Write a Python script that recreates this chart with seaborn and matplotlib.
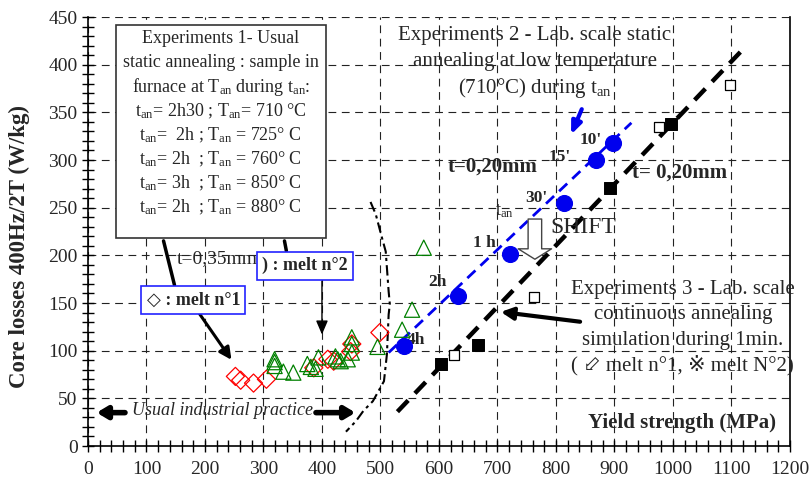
import numpy as np
import pandas as pd
import matplotlib.pyplot as plt
import seaborn as sns
from matplotlib.patches import Rectangle
from matplotlib.ticker import MultipleLocator

# Experiments 1 - usual static annealing, t = 0.35 mm
melt1_ys = [252, 261, 283, 305, 386, 410, 420, 449, 451, 499]
melt1_loss = [73, 69, 66, 70, 82, 91, 89, 99, 107, 119]
melt2_ys = [319, 319, 319, 334, 351, 375, 381, 389, 394, 423,
            427, 432, 444, 451, 451, 451, 495, 537, 554, 574]
melt2_loss = [91, 88, 84, 78, 77, 86, 83, 81, 93, 94,
              91, 89, 91, 114, 107, 98, 104, 122, 143, 208]

# Experiments 2 - static annealing at 710 C, t = 0.20 mm
exp2_ys = [540, 633, 722, 813, 869, 898]
exp2_loss = [105, 157, 201, 255, 300, 318]
exp2_labels = ["4h", "2h", "1 h", "30'", "15'", "10'"]
exp2_trend_x = [514, 929]
exp2_trend_y = [98, 339]

# Experiments 3 - continuous annealing 1 min, t = 0.20 mm
exp3_melt1_ys = [626, 763, 977, 1097]
exp3_melt1_loss = [95, 156, 335, 379]
exp3_melt2_ys = [603, 666, 893, 996]
exp3_melt2_loss = [86, 106, 271, 338]
exp3_trend_x = [529, 1118]
exp3_trend_y = [36, 415]

# usual industrial practice boundary
practice_x = [483, 492, 501, 509, 514, 516, 514, 511, 506, 497, 487, 471, 458, 441]
practice_y = [256, 243, 222, 204, 162, 149, 138, 96, 68, 58, 47, 37, 26, 15]

x_ticks = list(range(0, 1201, 100))
y_ticks = list(range(0, 451, 50))

sns.set_theme(style="ticks")
plt.rcParams['font.family'] = ['Liberation Serif', 'DejaVu Serif', 'DejaVu Sans']
plt.rcParams['mathtext.fontset'] = 'custom'
plt.rcParams['mathtext.rm'] = 'Liberation Serif'
plt.rcParams['mathtext.it'] = 'Liberation Serif:italic'
plt.rcParams['mathtext.bf'] = 'Liberation Serif:bold'

fig = plt.figure(figsize=(8.11, 4.86), dpi=100)
ax = fig.add_axes([0.1085, 0.0823, 0.8655, 0.8827])

# lines
sns.lineplot(x=practice_x, y=practice_y, ax=ax, sort=False, estimator=None,
             color='black', lw=1.5, linestyle=(0, (5, 2, 1.5, 2)))
sns.lineplot(x=exp2_trend_x, y=exp2_trend_y, ax=ax, sort=False, estimator=None,
             color='#0000ee', lw=2, linestyle=(0, (4, 2.5)))
sns.lineplot(x=exp3_trend_x, y=exp3_trend_y, ax=ax, sort=False, estimator=None,
             color='black', lw=3.2, linestyle=(0, (3.5, 2.2)))

# points
sns.scatterplot(x=melt1_ys, y=melt1_loss, ax=ax, marker='D', s=85,
                facecolor='none', edgecolor='red', linewidth=0.9, zorder=4)
sns.scatterplot(x=melt2_ys, y=melt2_loss, ax=ax, marker='^', s=120,
                facecolor='none', edgecolor='green', linewidth=0.9, zorder=4)
sns.scatterplot(x=exp2_ys, y=exp2_loss, ax=ax, marker='o', s=130,
                color='#0000ee', edgecolor='#0000ee', zorder=5)
sns.scatterplot(x=exp3_melt1_ys, y=exp3_melt1_loss, ax=ax, marker='s', s=60,
                facecolor='white', edgecolor='black', linewidth=0.9, zorder=5)
sns.scatterplot(x=exp3_melt2_ys, y=exp3_melt2_loss, ax=ax, marker='s', s=75,
                color='black', edgecolor='black', zorder=5)

ax.set_xlim(0, 1200)
ax.set_ylim(0, 450)
ax.set_xticks(x_ticks)
ax.set_yticks(y_ticks)
ax.xaxis.set_minor_locator(MultipleLocator(20))
ax.yaxis.set_minor_locator(MultipleLocator(10))
ax.tick_params(which='both', direction='inout', length=8, width=1, color='black',
               labelsize=14, bottom=True, left=True)
ax.tick_params(axis='x', pad=7)
ax.grid(True, which='major', color='#222222', lw=0.8, linestyle=(0, (7, 5)))
ax.spines['top'].set_visible(False)
for s in ['left', 'right', 'bottom']:
    ax.spines[s].set_linewidth(1.2)
    ax.spines[s].set_color('black')
ax.set_xlabel('')
ax.set_ylabel('Core losses 400Hz/2T (W/kg)', fontsize=16.5, fontweight='bold')
ax.yaxis.set_label_coords(-0.082, 0.464)

sub = r'$_{\mathrm{an}}$'

# Experiments 1 box
ax.add_patch(Rectangle((48, 218), 359, 224, fc='white', ec='#333333', lw=1.2, zorder=6))
box1_lines = ["Experiments 1- Usual",
              "static annealing : sample in",
              "furnace at T" + sub + " during t" + sub + ":",
              "t" + sub + "= 2h30 ; T" + sub + "= 710 °C",
              "t" + sub + "=  2h ; T" + sub + " = 725° C",
              "t" + sub + "= 2h  ; T" + sub + " = 760° C",
              "t" + sub + "= 3h  ; T" + sub + " = 850° C",
              "t" + sub + "= 2h  ; T" + sub + " = 880° C"]
for i, line in enumerate(box1_lines):
    ax.text(227, 427 - i * 25.2, line, ha='center', va='center', fontsize=13, zorder=7)

thick = dict(arrowstyle='-', color='black', lw=2.5)
ax.annotate('', xy=(149, 166), xytext=(128, 218), arrowprops=thick, zorder=6)
ax.annotate('', xy=(340, 202), xytext=(335, 218), arrowprops=thick, zorder=6)

ax.text(152, 197, 't=0,35mm', fontsize=14, ha='left', va='center')
blue_box = dict(boxstyle='square,pad=0.3', fc='white', ec='#2222ff', lw=1.2)
ax.text(180, 153, '◇ : melt n°1', fontsize=13, fontweight='bold', ha='center',
        va='center', bbox=blue_box, zorder=7)
ax.text(371, 189, ') : melt n°2', fontsize=13, fontweight='bold', ha='center',
        va='center', bbox=blue_box, zorder=7)
ax.annotate('', xy=(248, 88), xytext=(188, 141),
            arrowprops=dict(arrowstyle='-|>,head_length=0.6,head_width=0.3',
                            color='black', lw=2.2))
ax.annotate('', xy=(400, 114), xytext=(400, 176),
            arrowprops=dict(arrowstyle='-|>,head_length=0.7,head_width=0.3',
                            color='black', lw=1))

# usual industrial practice
ax.text(76, 37, 'Usual industrial practice', fontsize=13, style='italic',
        ha='left', va='center')
big_arrow = dict(arrowstyle='-|>,head_length=0.5,head_width=0.3', color='black', lw=4)
ax.annotate('', xy=(10, 35), xytext=(68, 35), arrowprops=big_arrow)
ax.annotate('', xy=(462, 35), xytext=(385, 35), arrowprops=big_arrow)

# Experiments 2
for i, line in enumerate(["Experiments 2 - Lab. scale static",
                          "annealing at low temperature",
                          "(710°C) during t" + sub]):
    ax.text(764, 431 - i * 27.5, line, ha='center', va='center', fontsize=15)
ax.annotate('', xy=(824, 324), xytext=(846, 356),
            arrowprops=dict(arrowstyle='-|>,head_length=0.6,head_width=0.25',
                            color='#0000ee', lw=3))
label_pos = [(561, 111), (598, 172), (678, 213), (767, 260), (807, 303), (860, 321)]
for (lx, ly), lab in zip(label_pos, exp2_labels):
    ax.text(lx, ly, lab, fontsize=12.5, fontweight='bold', ha='center', va='center')
ax.text(691, 293, 't=0,20mm', fontsize=15, fontweight='bold', ha='center', va='center')
ax.text(696, 246, 't' + sub, fontsize=13, ha='left', va='center')
ax.annotate('', xy=(764, 193), xytext=(764, 241),
            arrowprops=dict(arrowstyle='simple,head_length=0.5,head_width=1.6,tail_width=0.65',
                            fc='white', ec='#444444', lw=1, mutation_scale=15))
ax.text(790, 229, 'SHIFT', fontsize=17, ha='left', va='center')

# Experiments 3
ax.text(1012, 287, 't= 0,20mm', fontsize=15, fontweight='bold', ha='center', va='center')
for i, line in enumerate(["Experiments 3 - Lab. scale",
                          "continuous annealing",
                          "simulation during 1min.",
                          "( ⬃ melt n°1, ※ melt N°2)"]):
    ax.text(1017, 164 - i * 26.5, line, ha='center', va='center', fontsize=15,
            clip_on=False)
ax.annotate('', xy=(701, 141), xytext=(846, 130),
            arrowprops=dict(arrowstyle='-|>,head_length=0.6,head_width=0.3',
                            color='black', lw=3))

ax.text(1016, 24, 'Yield strength (MPa)', fontsize=15, fontweight='bold',
        ha='center', va='center')

fig.savefig('out.png', dpi=100)
